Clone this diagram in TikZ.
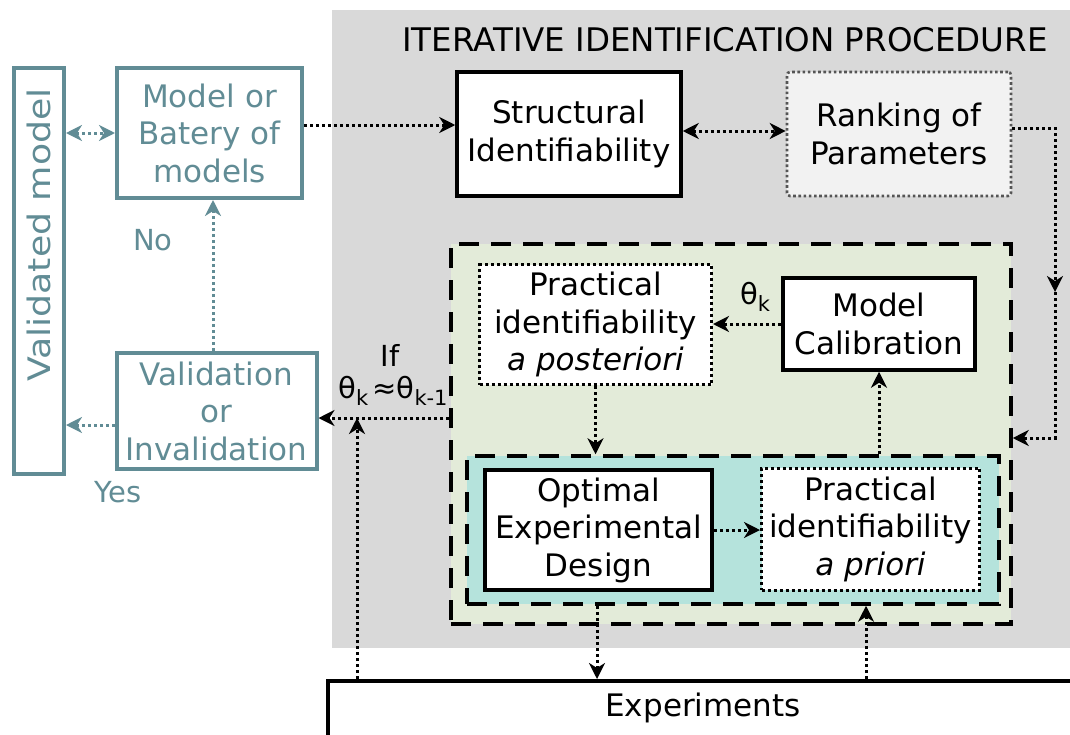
\documentclass[tikz,border=0pt]{standalone}
\usepackage{fontspec}
\setmainfont{DejaVu Sans}
\usetikzlibrary{arrows.meta,calc}
\definecolor{procgray}{HTML}{D9D9D9}
\definecolor{loopgreen}{HTML}{E3EBD9}
\definecolor{designteal}{HTML}{B5E3DC}
\definecolor{rankfill}{HTML}{F2F2F2}
\definecolor{valteal}{HTML}{618C95}
\definecolor{rankedge}{HTML}{555555}
\tikzset{
  txt/.style={font=\fontsize{31}{37.5}\selectfont, align=center, inner sep=0pt},
  solidbox/.style={txt, draw=black, line width=3.5pt, fill=white},
  dotbox/.style={txt, draw=black, line width=3pt, dash pattern=on 3pt off 3pt, fill=white},
  tealbox/.style={txt, draw=valteal, line width=4pt, fill=white, text=valteal},
  dashbox/.style={draw=black, line width=3.5pt, dash pattern=on 20pt off 12pt, inner sep=0pt},
  link/.style={draw=black, line width=3pt, dash pattern=on 3pt off 3pt},
  tlink/.style={draw=valteal, line width=3pt, dash pattern=on 3pt off 3pt},
  tip/.style={-{Stealth[length=16pt,width=16pt,inset=5pt]}},
  tips/.style={{Stealth[length=16pt,width=16pt,inset=5pt]}-{Stealth[length=16pt,width=16pt,inset=5pt]}},
  lbl/.style={font=\fontsize{29}{34}\selectfont, inner sep=0pt}
}
\newcommand{\thk}[1]{θ\raisebox{-0.25em}{\fontsize{21}{21}\selectfont #1}}
\begin{document}
\begin{tikzpicture}[x=1pt,y=-1pt]
\useasboundingbox (0,0) rectangle (1070,734);
\fill[white] (0,0) rectangle (1070,734);

% procedure background and title
\fill[procgray] (332,10) rectangle (1070,648);
\node[font=\fontsize{32.5}{36}\selectfont, inner sep=0pt] (title) at (725,40) {ITERATIVE IDENTIFICATION PROCEDURE};

% loop and design frames
\node[dashbox, fill=loopgreen, minimum width=560pt, minimum height=380pt] (loop) at (731,434) {};
\node[dashbox, fill=designteal, minimum width=532pt, minimum height=148pt] (design) at (733,530) {};

% validation side
\node[tealbox, minimum width=50pt, minimum height=406pt] (valm) at (39,271) {};
\node[txt, text=valteal, rotate=90] (valmtxt) at (39,235) {\scalebox{1.17}[1]{Validated model}};
\node[tealbox, minimum width=185pt, minimum height=130pt] (model) at (209.5,133) {Model or\\Batery of\\models};
\node[tealbox, minimum width=200pt, minimum height=116pt] (valid) at (216.5,411) {Validation\\or\\Invalidation};

% procedure boxes
\node[solidbox, minimum width=224pt, minimum height=124pt] (struct) at (569,134) {Structural\\Identifiability};
\node[txt, draw=rankedge, line width=2.6pt, dash pattern=on 2.6pt off 2.6pt, fill=rankfill, rounded corners=3pt, minimum width=224pt, minimum height=124pt] (rank) at (899,134) {Ranking of\\Parameters};
\node[dotbox, minimum width=232pt, minimum height=120pt] (post) at (595.5,324.5) {Practical\\identifiability\\\textit{a posteriori}};
\node[solidbox, minimum width=192pt, minimum height=92pt] (calib) at (879,324) {Model\\Calibration};
\node[solidbox, minimum width=227pt, minimum height=120pt] (oed) at (598.5,530) {Optimal\\Experimental\\Design};
\node[dotbox, minimum width=218pt, minimum height=122pt] (prio) at (870.5,529) {Practical\\identifiability\\\textit{a priori}};
\node[txt, draw=black, line width=3.5pt, fill=white, minimum width=760pt, minimum height=80pt, anchor=north west] (exper) at (326,679) {};
\node[txt] (expertxt) at (703,708) {Experiments};

% labels
\node[lbl, text=valteal] (no) at (153,240) {No};
\node[lbl, text=valteal] (yes) at (118,492) {Yes};
\node[lbl] (iflbl) at (390,355) {If};
\node[lbl] (cond) at (393,391) {\thk{k}$\,$≈\thk{k-1}};
\node[lbl] (thlbl) at (755,297) {\thk{k}};

% connectors of the validation side
\draw[tlink, tips] (valm.east |- model.west) -- (model.west);
\draw[tlink, tip] (valid.north -| 213,0) -- (model.south -| 213,0);
\draw[tlink, tip] ([yshift=-14pt]valid.west) -- ([yshift=-14pt]valid.west -| valm.east);

% connectors of the procedure
\draw[link, tip] ([yshift=8pt]model.east) -- ([yshift=8pt]model.east -| struct.west);
\draw[link, tips] ([yshift=3pt]struct.east) -- ([yshift=3pt]rank.west);
\coordinate (rk1) at (1055,128);
\coordinate (rk2) at (1055,292);
\coordinate (rk3) at (1055,438);
\draw[link, tip] (rank.east |- rk1) -- (rk1) -- (rk2);
\draw[link, tip] (rk2) -- (rk3) -- (rk3 -| loop.east);
\draw[link, tip] (calib.west) -- (calib.west -| post.east);
\draw[link, tip] (post.south) -- (post.south |- design.north);
\draw[link, tip] (oed.east) -- (oed.east -| prio.west);
\draw[link, tip] (calib.south |- design.north) -- (calib.south);
\draw[link, tip] (597,0 |- design.south) -- (597,0 |- exper.north);
\draw[link, tip] (866,0 |- exper.north) -- (866,0 |- design.south);
\coordinate (ifpt) at (357,418);
\draw[link, tip] (ifpt -| loop.west) -- (ifpt -| valid.east);
\draw[link, tip, shorten >=-2pt] (ifpt |- exper.north) -- ([yshift=-2pt]ifpt);
\end{tikzpicture}
\end{document}
